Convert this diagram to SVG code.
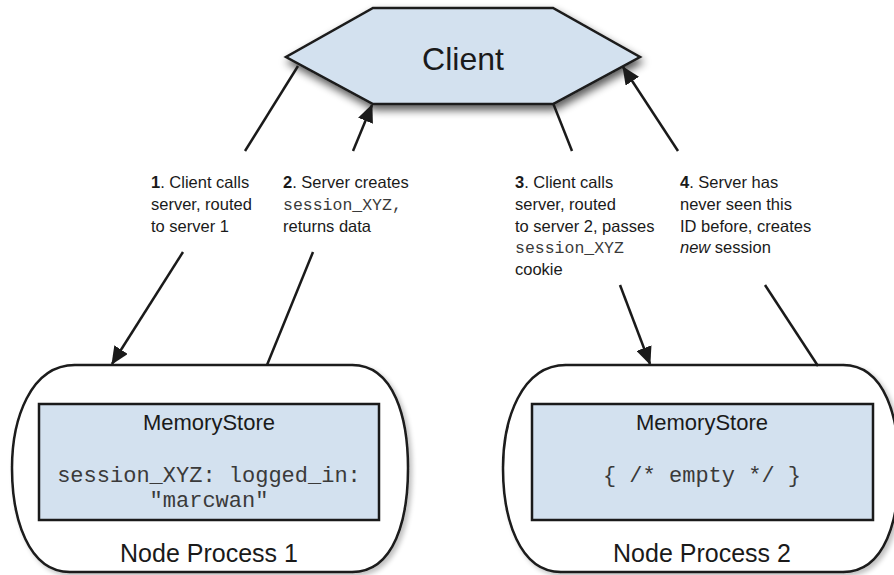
<svg xmlns="http://www.w3.org/2000/svg" width="894" height="575" viewBox="0 0 894 575">
<style>
.sans{font-family:"Liberation Sans",Arial,Helvetica,sans-serif;fill:#1a1a1a}
.mono{font-family:"Liberation Mono","Courier New",monospace;fill:#3a3a3a}
.lbl{font-size:16.5px}
.lblm{font-size:16.5px}
.conn{stroke:#1a1a1a;stroke-width:2.5;fill:none}
.blue{fill:#d3e1ef;stroke:#1a1a1a;stroke-width:2.5}
.outer{fill:#ffffff;stroke:#1a1a1a;stroke-width:2.5}
</style>
<defs>
<filter id="shadow" x="-20%" y="-30%" width="140%" height="170%">
<feGaussianBlur in="SourceAlpha" stdDeviation="4"/>
<feOffset dx="2" dy="5" result="b"/>
<feComponentTransfer><feFuncA type="linear" slope="0.65"/></feComponentTransfer>
<feMerge><feMergeNode/><feMergeNode in="SourceGraphic"/></feMerge>
</filter>
<filter id="lshadow" x="-10%" y="-10%" width="120%" height="120%">
<feGaussianBlur in="SourceAlpha" stdDeviation="2.5"/>
<feOffset dx="3" dy="3" result="b"/>
<feComponentTransfer><feFuncA type="linear" slope="0.25"/></feComponentTransfer>
<feMerge><feMergeNode/><feMergeNode in="SourceGraphic"/></feMerge>
</filter>
<marker id="arrow" markerUnits="userSpaceOnUse" markerWidth="18" markerHeight="16" viewBox="0 0 18 16" refX="17" refY="8" orient="auto">
<path d="M0,0 L18,8 L0,16 Z" fill="#1a1a1a"/>
</marker>
</defs>

<g id="client">
<polygon class="blue" filter="url(#shadow)" points="373,8 553,8 640,57 553,104 373,104 286,57"/>
<text class="sans" x="463" y="70" font-size="32" text-anchor="middle">Client</text>
</g>

<g id="node1">
<path class="outer" filter="url(#lshadow)" d="M75,365 H352 C395,365 408,420 408,468 C408,518 395,572 352,572 H70 C28,572 12,518 12,468 C12,420 30,365 75,365 Z"/>
<rect class="blue" x="39" y="404" width="340" height="116"/>
<text class="sans" x="209" y="430" font-size="22" text-anchor="middle">MemoryStore</text>
<text class="mono" x="209" y="482" font-size="22" text-anchor="middle">session_XYZ: logged_in:</text>
<text class="mono" x="209" y="507" font-size="22" text-anchor="middle">"marcwan"</text>
<text class="sans" x="209" y="562" font-size="25" text-anchor="middle">Node Process 1</text>
</g>

<g id="node2">
<path class="outer" filter="url(#lshadow)" d="M566,365 H843 C886,365 899,420 899,468 C899,518 886,572 843,572 H561 C519,572 503,518 503,468 C503,420 521,365 566,365 Z"/>
<rect class="blue" x="532" y="404" width="341" height="116"/>
<text class="sans" x="702" y="430" font-size="22" text-anchor="middle">MemoryStore</text>
<text class="mono" x="702" y="482" font-size="22" text-anchor="middle">{ /* empty */ }</text>
<text class="sans" x="702" y="562" font-size="25" text-anchor="middle">Node Process 2</text>
</g>

<g id="connectors">
<line class="conn" x1="298" y1="66" x2="245" y2="151"/>
<line class="conn" x1="183" y1="252" x2="112" y2="364" marker-end="url(#arrow)"/>
<line class="conn" x1="267" y1="365" x2="313" y2="252"/>
<line class="conn" x1="353" y1="151" x2="372" y2="105" marker-end="url(#arrow)"/>
<line class="conn" x1="553" y1="103" x2="572" y2="151"/>
<line class="conn" x1="620" y1="285" x2="650" y2="364" marker-end="url(#arrow)"/>
<line class="conn" x1="818" y1="366" x2="765" y2="285"/>
<line class="conn" x1="678" y1="151" x2="623" y2="67" marker-end="url(#arrow)"/>
</g>

<g id="labels">
<text class="sans lbl" x="151" y="188"><tspan font-weight="bold">1</tspan>. Client calls</text>
<text class="sans lbl" x="151" y="210">server, routed</text>
<text class="sans lbl" x="151" y="232">to server 1</text>

<text class="sans lbl" x="283" y="188"><tspan font-weight="bold">2</tspan>. Server creates</text>
<text class="mono lblm" x="283" y="210">session_XYZ,</text>
<text class="sans lbl" x="283" y="232">returns data</text>

<text class="sans lbl" x="515" y="188"><tspan font-weight="bold">3</tspan>. Client calls</text>
<text class="sans lbl" x="515" y="210">server, routed</text>
<text class="sans lbl" x="515" y="232">to server 2, passes</text>
<text class="mono lblm" x="515" y="253">session_XYZ</text>
<text class="sans lbl" x="515" y="275">cookie</text>

<text class="sans lbl" x="680" y="188"><tspan font-weight="bold">4</tspan>. Server has</text>
<text class="sans lbl" x="680" y="210">never seen this</text>
<text class="sans lbl" x="680" y="232">ID before, creates</text>
<text class="sans lbl" x="680" y="253"><tspan font-style="italic">new</tspan> session</text>
</g>
</svg>
